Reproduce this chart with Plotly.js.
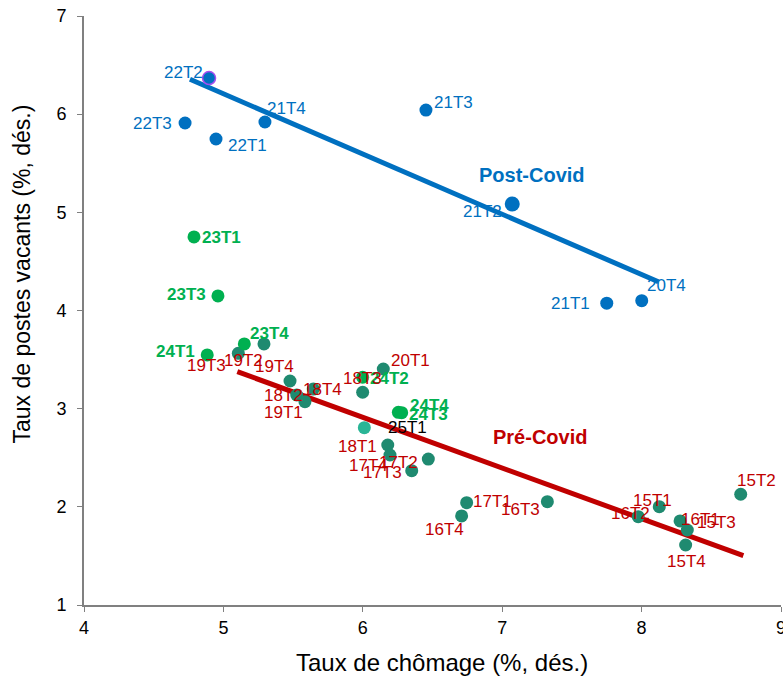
<!DOCTYPE html>
<html>
<head>
<meta charset="utf-8">
<script src="https://cdn.plot.ly/plotly-3.0.1.min.js"></script>
<style>
  html, body { margin: 0; padding: 0; background: #fff; }
  #chart { width: 783px; height: 677px; }
</style>
</head>
<body>
<div id="chart"></div>
<script>
// ---------- DATA ----------
// Post-Covid quarters (blue)
const postLabels = ['22T2', '22T3', '22T1', '21T4', '21T3', '21T2', '21T1', '20T4'];
const postChomage = [4.897, 4.725, 4.947, 5.298, 6.453, 7.072, 7.750, 8.001];
const postVacants = [6.368, 5.910, 5.747, 5.920, 6.042, 5.085, 4.075, 4.100];

// 2023-2024 quarters (green)
const recentLabels = ['23T1', '23T3', '23T4', '24T1', '24T2', '24T4', '24T3'];
const recentChomage = [4.789, 4.961, 5.150, 4.884, 5.999, 6.255, 6.279];
const recentVacants = [4.749, 4.148, 3.659, 3.547, 3.320, 2.963, 2.959];

// Pre-Covid quarters (teal, red labels)
const preLabels = ['19T3', '19T2', '19T4', '18T4', '18T2', '19T1', '20T1', '18T3', '18T1',
                   '17T4', '17T2', '17T3', '17T1', '16T4', '16T3', '15T2', '15T1', '16T2',
                   '16T1', '15T3', '15T4'];
const preChomage = [5.107, 5.291, 5.478, 5.645, 5.526, 5.585, 6.147, 5.999, 6.179,
                    6.195, 6.470, 6.351, 6.745, 6.709, 7.324, 8.711, 8.127, 7.976,
                    8.276, 8.328, 8.316];
const preVacants = [3.564, 3.659, 3.282, 3.200, 3.139, 3.071, 3.404, 3.167, 2.630,
                    2.528, 2.487, 2.368, 2.042, 1.907, 2.053, 2.128, 2.002, 1.900,
                    1.856, 1.764, 1.611];

// Latest quarter
const lastLabels = ['25T1'];
const lastChomage = [6.011];
const lastVacants = [2.806];

// Trend lines
const postTrendX = [4.76, 8.12];
const postTrendY = [6.355, 4.293];
const preTrendX = [5.10, 8.73];
const preTrendY = [3.377, 1.502];

// Axis ticks
const xTicks = [4, 5, 6, 7, 8, 9];
const yTicks = [1, 2, 3, 4, 5, 6, 7];

// ---------- STYLES ----------
const FONT = 'Liberation Sans, Arial, sans-serif';
const BLUE = '#0070C0', GREEN = '#00B050', TEAL = '#1F8A70', TEAL_LIGHT = '#2AB596', RED = '#C00000';

// Label offsets in pixels [right, up]
const labelShift = {
  '22T2': [-26, 6], '22T3': [-33, 0], '22T1': [31, -6], '21T4': [22, 14],
  '21T3': [28, 8], '21T2': [-30, -8], '21T1': [-36, 0], '20T4': [25, 15],
  '23T1': [28, -1], '23T3': [-31, 1], '23T4': [25, 10], '24T1': [-32, 3],
  '24T2': [27, -1], '24T4': [31, 7], '24T3': [27, -2],
  '19T3': [-32, -12], '19T2': [-20, -17], '19T4': [-16, 14], '18T4': [9, 0],
  '18T2': [-13, 0], '19T1': [-21, -11], '20T1': [27, 9], '18T3': [0, 14],
  '18T1': [-30, -2], '17T4': [-21, -10], '17T2': [-30, -3], '17T3': [-29, -2],
  '17T1': [26, 1], '16T4': [-17, -14], '16T3': [-27, -8], '15T2': [16, 14],
  '15T1': [-7, 6], '16T2': [-8, 3], '16T1': [20, 1], '15T3': [29, 8], '15T4': [1, -16],
  '25T1': [43, 0]
};

function scatter(name, xs, ys, labels, color) {
  return {
    type: 'scatter', mode: 'markers', name: name,
    x: xs, y: ys, text: labels, hoverinfo: 'text+x+y',
    marker: {
      color: color, opacity: 1,
      size: labels.map(l => l === '21T2' ? 15 : 13),
      line: {
        color: labels.map(l => l === '22T2' ? '#A64DF0' : color),
        width: labels.map(l => l === '22T2' ? 1.5 : 0)
      }
    }
  };
}

function labelAnns(xs, ys, labels, color, bold) {
  return labels.map((l, i) => ({
    x: xs[i], y: ys[i], xref: 'x', yref: 'y', text: bold ? '<b>' + l + '</b>' : l,
    showarrow: false, xshift: labelShift[l][0], yshift: labelShift[l][1],
    font: { family: FONT, size: 17, color: color }
  }));
}

const traces = [
  { type: 'scatter', mode: 'lines', name: 'Tendance Post-Covid', x: postTrendX, y: postTrendY,
    line: { color: BLUE, width: 5 }, hoverinfo: 'skip' },
  { type: 'scatter', mode: 'lines', name: 'Tendance Pré-Covid', x: preTrendX, y: preTrendY,
    line: { color: RED, width: 5 }, hoverinfo: 'skip' },
  scatter('Pré-Covid', preChomage, preVacants, preLabels, TEAL),
  scatter('2023-2024', recentChomage, recentVacants, recentLabels, GREEN),
  scatter('Post-Covid', postChomage, postVacants, postLabels, BLUE),
  scatter('25T1', lastChomage, lastVacants, lastLabels, TEAL_LIGHT)
];

const annotations = []
  .concat(labelAnns(postChomage, postVacants, postLabels, BLUE, false))
  .concat(labelAnns(recentChomage, recentVacants, recentLabels, GREEN, true))
  .concat(labelAnns(preChomage, preVacants, preLabels, RED, false))
  .concat(labelAnns(lastChomage, lastVacants, lastLabels, '#000000', false))
  .concat([
    { x: 7.217, y: 5.38, xref: 'x', yref: 'y', text: '<b>Post-Covid</b>', showarrow: false,
      font: { family: FONT, size: 20, color: BLUE } },
    { x: 7.271, y: 2.711, xref: 'x', yref: 'y', text: '<b>Pré-Covid</b>', showarrow: false,
      font: { family: FONT, size: 20, color: RED } },
    // axis titles
    { x: 0.5136, y: -0.0968, xref: 'paper', yref: 'paper', text: 'Taux de chômage (%, dés.)',
      showarrow: false, xanchor: 'center', yanchor: 'middle',
      font: { family: FONT, size: 24, color: '#000000' } },
    { x: -0.089, y: 0.5628, xref: 'paper', yref: 'paper', text: 'Taux de postes vacants (%, dés.)',
      showarrow: false, xanchor: 'center', yanchor: 'middle', textangle: -90,
      font: { family: FONT, size: 23, color: '#000000' } }
  ]);

const axisCommon = {
  showgrid: false, zeroline: false, showline: true,
  linecolor: '#808080', linewidth: 2,
  ticks: 'outside', ticklen: 5, tickwidth: 1, tickcolor: '#808080',
  tickfont: { family: FONT, size: 18, color: '#000000' },
  ticklabeloverflow: 'allow',
  fixedrange: true
};

const layout = {
  width: 783, height: 677,
  margin: { l: 84, r: 2, t: 16, b: 72 },
  paper_bgcolor: '#ffffff', plot_bgcolor: '#ffffff',
  showlegend: false,
  xaxis: Object.assign({}, axisCommon, {
    range: [4, 9], tickvals: xTicks, ticktext: xTicks.map(String)
  }),
  yaxis: Object.assign({}, axisCommon, {
    range: [1, 7], tickvals: yTicks, ticktext: yTicks.map(String),
    ticklabelstandoff: 7
  }),
  annotations: annotations
};

Plotly.newPlot('chart', traces, layout, { displayModeBar: false, staticPlot: true });
</script>
</body>
</html>
